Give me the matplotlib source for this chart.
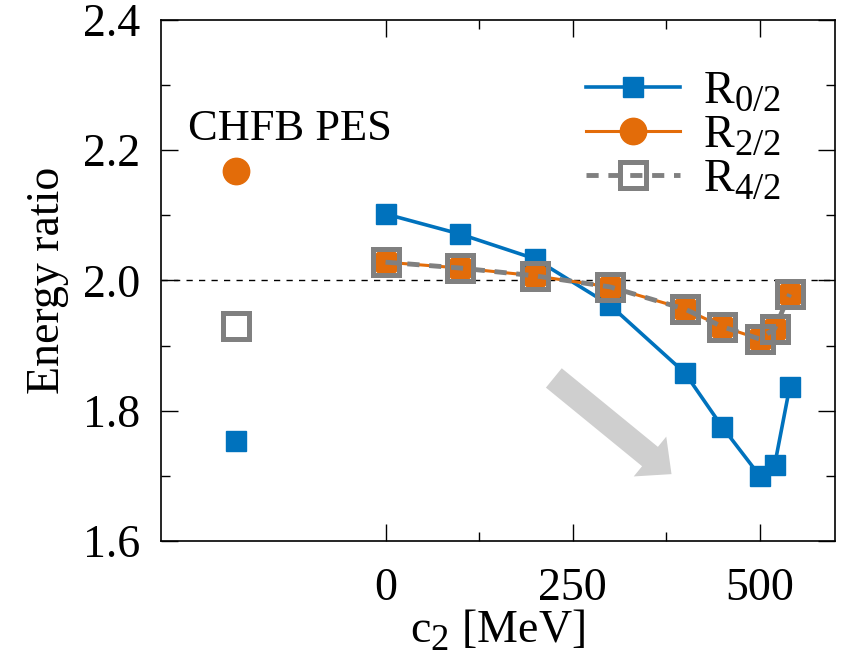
import matplotlib
matplotlib.use("Agg")
import matplotlib.pyplot as plt
from matplotlib.patches import FancyArrowPatch

try:
    import matplotlib._mathtext as _mt
    _mt.SHRINK_FACTOR = 0.8
    _mt.FontConstantsBase.sub1 = 0.42
    _mt.FontConstantsBase.sub2 = 0.6
except Exception:
    pass

# ---- data ----
c2 = [0, 100, 200, 300, 400, 450, 500, 520, 540]
r02 = [2.102, 2.071, 2.033, 1.962, 1.858, 1.775, 1.700, 1.717, 1.836]
r22 = [2.028, 2.019, 2.007, 1.990, 1.956, 1.929, 1.910, 1.926, 1.979]
r42 = [2.028, 2.019, 2.007, 1.990, 1.956, 1.929, 1.910, 1.926, 1.979]
chfb_x = -200
chfb_r02 = 1.753
chfb_r22 = 2.168
chfb_r42 = 1.930

xticks = [0, 250, 500]
yticks = [1.6, 1.8, 2.0, 2.2, 2.4]

blue = '#0072BD'
orange = '#E36C09'
gray = '#808080'

plt.rcParams['font.family'] = ['Liberation Serif', 'DejaVu Serif']
plt.rcParams['mathtext.fontset'] = 'custom'
plt.rcParams['mathtext.rm'] = 'Liberation Serif'
plt.rcParams['mathtext.it'] = 'Liberation Serif:italic'

fs = 33
fig = plt.figure(figsize=(8.43, 6.59), dpi=100)
ax = fig.add_axes([0.191, 0.179, 0.799, 0.791])

ax.axhline(2.0, color='black', lw=1.0, ls=(0, (4.5, 4.5)), zorder=1)

ax.plot(c2, r02, color=blue, lw=2.6, marker='s', ms=15, mec=blue,
        label=r'R$_{0/2}$', zorder=3)
ax.plot(c2, r22, color=orange, lw=2.2, marker='o', ms=19, mec=orange,
        label=r'R$_{2/2}$', zorder=4)
ax.plot(c2, r42, color=gray, lw=3.5, ls=(0, (2.5, 2.0)), marker='s', ms=19,
        mfc='none', mec=gray, mew=3.6, label=r'R$_{4/2}$', zorder=5)

ax.plot([chfb_x], [chfb_r02], ls='none', marker='s', ms=15, color=blue, zorder=3)
ax.plot([chfb_x], [chfb_r22], ls='none', marker='o', ms=19, color=orange, zorder=3)
ax.plot([chfb_x], [chfb_r42], ls='none', marker='s', ms=19, mfc='white',
        mec=gray, mew=3.6, zorder=3)

ax.text(-264, 2.232, 'CHFB PES', fontsize=32, ha='left', va='center')

arrow = FancyArrowPatch((222, 1.853), (385, 1.700),
                        arrowstyle='simple,head_length=20,head_width=37,tail_width=18',
                        mutation_scale=1, color='#cfcfcf', lw=0, zorder=2)
ax.add_patch(arrow)

ax.set_xlim(-300, 600)
ax.set_ylim(1.6, 2.4)
ax.set_xticks(xticks)
ax.set_xticks([125, 375], minor=True)
ax.set_yticks(yticks)
ax.set_yticks([1.7, 1.9, 2.1, 2.3], minor=True)
ax.set_yticklabels([f'{v:.1f}' for v in yticks])
ax.tick_params(which='both', direction='in', top=True, right=True,
               labelsize=fs, width=1.0)
ax.tick_params(which='major', length=12)
ax.tick_params(which='minor', length=6.5)
ax.tick_params(axis='x', which='major', pad=19)
ax.tick_params(axis='y', which='major', pad=15)
for s in ax.spines.values():
    s.set_linewidth(1.2)

ax.set_xlabel(r'c$_2$ [MeV]', fontsize=fs, labelpad=-2)
ax.set_ylabel('Energy ratio', fontsize=fs, labelpad=10)

ax.legend(loc='upper right', frameon=False, fontsize=fs, handlelength=2.05,
          handletextpad=0.5, labelspacing=0.0, borderaxespad=0.3,
          bbox_to_anchor=(0.968, 0.965))

fig.savefig('out.png', dpi=100)
